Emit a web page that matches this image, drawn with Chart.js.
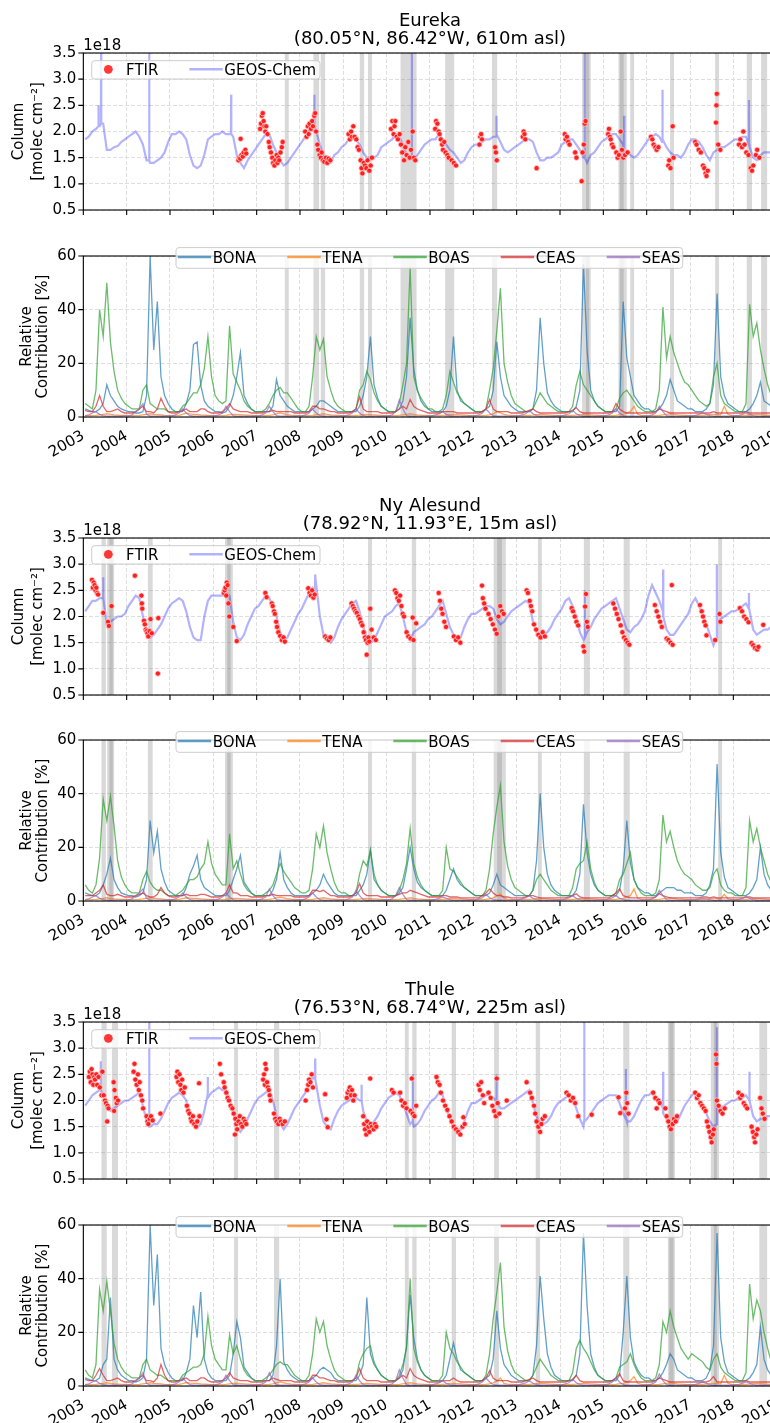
<!DOCTYPE html>
<html>
<head>
<meta charset="utf-8">
<script src="https://cdn.jsdelivr.net/npm/chart.js@4"></script>
<style>
  html, body { margin: 0; padding: 0; background: #fff; }
  body { width: 770px; height: 1423px; overflow: hidden; position: relative; }
  canvas { position: absolute; left: 0; }
</style>
</head>
<body>
<script>
// ========== Axes
const xTicks = [2003, 2004, 2005, 2006, 2007, 2008, 2009, 2010, 2011, 2012, 2013, 2014, 2015, 2016, 2017, 2018, 2019];
const columnTicks = [0.5, 1.0, 1.5, 2.0, 2.5, 3.0, 3.5];
const contribTicks = [0, 20, 40, 60];
const regionNames = ['BONA', 'TENA', 'BOAS', 'CEAS', 'SEAS'];

// ========== Eureka
// GEOS-Chem column, monthly, Jan 2003 .. Dec 2018 (1e18 molec cm-2)
const eurekaGC = [
  1.85,1.9,2.0,2.05,2.1,2.15,1.65,1.65,1.7,1.72,1.8,1.85,
  1.9,1.95,2.0,1.9,1.75,1.45,1.4,1.4,1.45,1.5,1.6,1.8,
  1.95,1.95,2.0,1.95,1.85,1.55,1.35,1.3,1.35,1.55,1.85,1.9,
  1.95,1.95,2.0,1.95,1.95,1.9,1.55,1.4,1.3,1.45,1.55,1.65,
  1.75,1.85,1.95,1.95,1.75,1.6,1.45,1.35,1.4,1.5,1.6,1.7,
  1.8,1.9,2.0,2.15,2.0,1.75,1.55,1.4,1.4,1.55,1.6,1.7,
  1.75,1.85,1.9,1.85,1.75,1.6,1.5,1.5,1.5,1.55,1.7,1.75,
  1.8,1.85,1.95,1.9,1.75,1.55,1.5,1.45,1.55,1.65,1.75,1.8,
  1.85,1.85,1.95,1.85,1.75,1.65,1.6,1.5,1.4,1.45,1.6,1.7,
  1.75,1.75,1.8,1.85,1.85,1.9,1.95,1.8,1.65,1.6,1.65,1.7,
  1.75,1.8,1.85,1.85,1.8,1.6,1.45,1.45,1.5,1.5,1.55,1.6,
  1.75,1.8,1.85,1.85,1.75,1.65,1.5,1.4,1.55,1.6,1.7,1.8,
  1.85,1.9,1.95,1.95,1.85,1.75,1.6,1.55,1.5,1.55,1.65,1.75,
  1.85,1.9,1.95,1.9,1.85,1.7,1.6,1.55,1.55,1.5,1.6,1.75,
  1.85,1.85,1.8,1.7,1.55,1.45,1.6,1.65,1.7,1.7,1.75,1.8,
  1.85,1.85,1.9,1.9,1.7,1.5,1.45,1.55,1.6,1.6,1.6,1.65
];
// short GEOS-Chem events: [time, value before/after, peak]
const eurekaGCSpikes = [
  [2003.35,2.1,2.5],[2003.41,2.15,3.6],[2004.52,1.45,3.6],[2006.41,1.95,2.7],[2008.33,2.1,2.7],
  [2010.58,1.5,3.6],[2012.53,1.9,2.3],[2014.57,1.5,3.6],[2015.48,1.6,2.3],[2016.36,1.8,2.8],[2018.36,1.75,2.6]
];
const eurekaFTIR = [
  [2006.58,1.45],[2006.6,1.5],[2006.62,1.48],[2006.63,1.86],[2006.65,1.55],[2006.68,1.52],[2006.7,1.6],[2006.74,1.65],[2006.76,1.58],
  [2007.08,2.05],[2007.1,2.15],[2007.12,2.3],[2007.14,2.35],[2007.16,2.2],[2007.18,2.1],[2007.2,2.0],[2007.22,2.1],[2007.25,1.95],
  [2007.28,1.8],[2007.3,1.7],[2007.33,1.6],[2007.36,1.5],[2007.38,1.4],[2007.41,1.35],[2007.43,1.45],[2007.46,1.55],[2007.48,1.4],
  [2007.5,1.5],[2007.52,1.45],[2007.55,1.6],[2007.58,1.7],[2007.6,1.8],
  [2008.12,2.0],[2008.15,1.9],[2008.18,2.1],[2008.2,1.95],[2008.22,2.15],[2008.25,2.05],[2008.28,2.2],[2008.3,2.1],[2008.33,2.3],
  [2008.35,2.35],[2008.37,2.0],[2008.4,1.75],[2008.42,1.65],[2008.45,1.55],[2008.48,1.5],[2008.5,1.6],[2008.53,1.45],[2008.56,1.42],
  [2008.6,1.5],[2008.63,1.4],[2008.66,1.48],[2008.7,1.45],
  [2009.12,1.95],[2009.15,1.85],[2009.18,2.0],[2009.2,1.9],[2009.23,2.1],[2009.26,1.9],[2009.3,1.85],[2009.33,1.7],[2009.36,1.65],
  [2009.4,1.45],[2009.42,1.3],[2009.44,1.2],[2009.47,1.4],[2009.5,1.35],[2009.53,1.3],[2009.56,1.45],[2009.6,1.25],[2009.63,1.35],[2009.66,1.5],
  [2010.1,2.05],[2010.13,2.2],[2010.16,1.95],[2010.18,2.1],[2010.2,2.2],[2010.23,1.9],[2010.26,1.85],[2010.3,1.95],[2010.33,1.75],
  [2010.36,1.6],[2010.4,1.45],[2010.43,1.7],[2010.46,1.55],[2010.5,1.8],[2010.53,1.5],[2010.56,1.65],[2010.6,2.0],[2010.63,1.5],[2010.66,1.45],
  [2011.12,2.05],[2011.14,2.2],[2011.17,2.15],[2011.2,2.0],[2011.22,1.95],[2011.25,1.85],[2011.28,1.75],[2011.3,1.65],[2011.33,1.8],
  [2011.36,1.6],[2011.4,1.55],[2011.43,1.5],[2011.5,1.45],[2011.55,1.4],[2011.6,1.35],
  [2012.14,1.75],[2012.16,1.9],[2012.18,1.95],[2012.2,1.85],[2012.5,1.7],[2012.52,1.6],[2012.54,1.45],
  [2013.14,1.9],[2013.16,2.0],[2013.18,1.95],[2013.2,1.85],[2013.46,1.3],
  [2014.11,1.95],[2014.13,1.85],[2014.16,1.9],[2014.19,1.8],[2014.22,1.75],[2014.35,1.6],[2014.38,1.5],[2014.5,1.05],[2014.52,1.6],
  [2014.55,1.75],[2014.57,2.15],[2014.59,2.2],
  [2015.11,1.95],[2015.13,2.05],[2015.15,1.9],[2015.17,1.85],[2015.2,1.75],[2015.23,1.7],[2015.3,1.6],[2015.33,1.5],[2015.36,1.55],
  [2015.4,2.0],[2015.43,1.65],[2015.46,1.5],[2015.5,1.55],[2015.56,1.6],
  [2016.1,1.9],[2016.13,1.85],[2016.16,1.75],[2016.2,1.7],[2016.23,1.65],[2016.27,1.7],[2016.5,1.35],[2016.52,1.45],[2016.55,1.3],
  [2016.6,2.1],[2016.62,1.5],
  [2017.12,1.8],[2017.15,1.75],[2017.2,1.65],[2017.25,1.6],[2017.3,1.35],[2017.33,1.3],[2017.36,1.2],[2017.38,1.15],[2017.41,1.25],
  [2017.6,2.17],[2017.61,2.5],[2017.62,2.72],[2017.65,1.75],[2017.7,1.65],
  [2018.13,1.75],[2018.16,1.85],[2018.2,1.7],[2018.23,2.0],[2018.26,1.75],[2018.3,1.6],[2018.35,1.55],[2018.4,1.3],[2018.43,1.25],
  [2018.46,1.35],[2018.52,1.55],[2018.55,1.65],[2018.6,1.5]
];
// relative contribution by source region, monthly (%)
const eurekaBONA = [
  3,2.5,2,2,3,5,12,8,6,4,3,2.5,
  2,2,1.5,1.5,2,8,60,25,43,15,8,5,
  3,2,2,2,5,10,27,28,12,6,4,3,
  2,2,1.5,2,4,8,15,24,8,5,3,2,
  2,2,2,2,4,14,8,6,4,3,2,2,
  2,2,2,3,4,6,6,5,4,3,2,2,
  2,2,2,2,4,8,15,30,12,7,4,3,
  2,2,2,3,6,15,37,18,10,6,4,3,
  2,2,2,2,4,10,30,10,6,5,4,3,
  2,2,2,3,4,10,28,15,8,6,4,3,
  2,2,2,2,3,10,37,20,9,6,4,3,
  2,2,2,2,4,10,57,25,10,6,4,3,
  2,2,2,2,4,43,22,15,8,6,4,3,
  3,2,2,3,5,8,14,10,6,5,4,3,
  3,2,2,2,3,5,12,46,15,8,5,4,
  3,2,2,2,3,5,8,13,6,5,4,3
];
const eurekaTENA = [
  .6,.5,.5,.6,.8,1,1.2,1,.8,.7,.6,.6,
  .5,.5,.5,.6,.8,1,1.2,1,.9,.8,.6,.5,
  .5,.5,.6,1,1.5,1.2,1,1,.8,.7,.6,.5,
  .5,.5,.5,.6,.8,1,1,.9,.8,.7,.6,.5,
  .5,.5,.5,.6,.8,1.2,1.5,1.2,.9,.7,.6,.5,
  .5,.5,.5,.6,.8,1,1.2,1,.8,.7,.6,.5,
  .5,.5,.5,.6,.7,.9,1,.9,.8,.7,.6,.5,
  .5,.5,.5,.6,.8,1,1.2,1,.8,.7,.6,.5,
  .5,.5,.5,.6,.7,.9,1,.9,.8,.7,.6,.5,
  .5,.5,.5,.6,.8,1.2,2,1.5,1,.7,.6,.5,
  .5,.5,.5,.6,.7,.9,1,.9,.8,.7,.6,.5,
  .5,.5,.5,.6,.7,.9,1,.9,.8,.7,.6,.5,
  .5,.5,.5,.6,.8,1,1.5,2,4,1,.6,.5,
  .5,.5,.5,.6,.8,1,1.2,1,.8,.7,.6,.5,
  .5,.5,.5,.6,.7,.9,1,1,.8,4,1,.6,
  .5,.5,.5,.6,.7,.9,1,.9,.8,.7,.6,.5
];
const eurekaBOAS = [
  5,4,3,10,40,30,50,28,17,10,7,5,
  4,3,3,3,10,12,5,4,3,3,3,2,
  2,2,2,4,5,7,9,9,12,18,30,15,
  8,6,5,6,34,16,13,10,6,4,3,2,
  2,2,3,5,8,10,11,9,9,7,5,3,
  2,2,4,15,30,25,29,15,10,6,4,3,
  2,2,2,3,10,12,17,14,9,6,4,3,
  2,2,2,5,12,20,56,15,10,7,5,3,
  3,2,2,3,8,17,13,9,7,5,4,3,
  2,2,2,3,10,18,32,48,20,13,8,5,
  4,3,2,2,3,6,9,7,5,4,3,2,
  2,2,2,4,12,17,12,10,8,6,4,3,
  2,2,2,3,7,9,10,8,6,4,3,2,
  2,2,3,10,41,22,30,24,20,16,13,12,
  10,8,6,5,4,5,15,20,8,5,4,3,
  2,2,2,5,42,30,35,25,18,12,8,5
];
const eurekaCEAS = [
  2.5,2,2,4,8,4,2,2,2.5,3,2,1.5,
  1.5,1.5,2,3,4,2,2,1.5,3,7,4,2,
  1.5,1.5,2,2.5,3,2,2,2,3,3,2,1.5,
  1.5,1.5,2,3,5,3,2.5,2,2,2,1.5,1.5,
  1.5,1.5,2,2,2.5,2,2,2,2,2,1.5,1.5,
  1.5,1.5,2,4,4,3,3,2.5,2,2,1.5,1.5,
  1.5,1.5,2,3,7.5,3,2,2,2,2,1.5,1.5,
  1.5,1.5,2,3,4,3,6.5,4,3,2.5,2,1.5,
  1.5,1.5,1.5,2,2,2,2,1.5,1.5,1.5,1.5,1.5,
  1.5,1.5,2,3,6.5,3,2,2,2,2,1.5,1.5,
  1.5,1.5,2,2.5,3,2,1.5,1.5,1.5,1.5,1.5,1.5,
  1.5,1.5,2,2.5,3.5,2,1.5,1.5,1.5,1.5,1.5,1.5,
  1.5,1.5,2,5,3,2,1.5,1.5,1.5,1.5,1.5,1.5,
  1.5,1.5,2,3,2.5,2,1.5,1.5,1.5,1.5,1.5,1.5,
  1.5,1.5,1.5,1.5,1.5,1.5,2,1.5,1.5,1.5,1.5,1.5,
  1.5,1.5,1.5,2,1.5,1.5,1.5,1.5,1.5,1.5,1.5,1.5
];
const eurekaSEAS = [
  .4,.8,1.5,2,1,.5,.3,.3,.3,.3,.3,.4,
  .4,.8,2,3,5,1,.3,.3,.3,.3,.3,.4,
  .4,.8,1.5,3,1.5,.5,.3,.3,.3,.3,.3,.4,
  .4,.8,1.5,4,2,.5,.3,.3,.3,.3,.3,.4,
  .4,.8,1.5,4,2,.5,.3,.3,.3,.3,.3,.4,
  .4,.8,1.5,3,1.5,.5,.3,.3,.3,.3,.3,.4,
  .4,.8,1.5,3,1.5,.5,.3,.3,.3,.3,.3,.4,
  .4,.8,2,6.4,3,.5,.3,.3,.3,.3,.3,.4,
  .4,.8,1.2,2,1,.5,.3,.3,.3,.3,.3,.4,
  .4,.8,1.5,3,1.5,.5,.3,.3,.3,.3,.3,.4,
  .4,.8,1.2,2.5,1.2,.5,.3,.3,.3,.3,.3,.4,
  .4,.8,1.2,2.5,1.2,.5,.3,.3,.3,.3,.3,.4,
  .4,.8,1.5,3,1.5,.5,.3,.3,.3,.3,.3,.4,
  .4,.8,1.5,4,2,.5,.3,.3,.3,.3,.3,.4,
  .4,.6,1,1.5,1,.5,.3,.3,.3,.3,.3,.4,
  .4,.6,1,1.5,1,.5,.3,.3,.3,.3,.3,.4
];
// shaded periods [start, end]
const eurekaBands = [
  [2007.65,2007.74],[2008.31,2008.44],[2008.48,2008.58],[2009.38,2009.48],[2009.57,2009.66],[2010.32,2010.69],
  [2011.35,2011.56],[2012.43,2012.55],[2014.51,2014.67],[2014.6,2014.71],[2015.35,2015.47],[2015.38,2015.54],
  [2015.62,2015.71],[2016.54,2016.63],[2017.58,2017.67],[2018.31,2018.43],[2018.64,2018.78]
];

// ========== Ny Alesund
const nyGC = [
  2.1,2.2,2.3,2.3,2.35,2.4,1.85,1.9,1.95,2.0,2.0,2.05,
  2.2,2.3,2.4,2.35,2.0,1.7,1.6,1.65,1.75,1.85,2.0,2.15,
  2.25,2.3,2.35,2.3,2.1,1.8,1.6,1.55,1.55,2.0,2.3,2.4,
  2.4,2.4,2.4,2.45,2.4,1.9,1.6,1.55,1.65,1.85,2.0,2.15,
  2.2,2.3,2.4,2.35,2.2,2.0,1.7,1.55,1.6,1.75,1.9,2.05,
  2.15,2.3,2.45,2.55,2.6,2.0,1.65,1.55,1.5,1.6,1.8,1.95,
  2.05,2.15,2.25,2.3,2.1,1.8,1.6,1.5,1.55,1.7,1.85,2.0,
  2.05,2.1,2.2,2.25,2.0,1.7,1.55,1.7,1.75,1.8,1.85,1.95,
  2.0,2.1,2.2,2.3,2.05,1.8,1.65,1.55,1.6,1.8,1.95,2.05,
  2.05,2.1,2.15,2.2,2.2,2.15,1.95,1.85,1.9,2.0,2.1,2.15,
  2.2,2.25,2.3,2.25,1.9,1.7,1.65,1.65,1.7,1.8,1.95,2.05,
  2.15,2.3,2.35,2.2,2.0,1.7,1.55,1.7,1.8,1.95,2.05,2.15,
  2.2,2.25,2.3,2.35,2.15,1.95,1.75,1.7,1.8,1.85,1.95,2.1,
  2.4,2.6,2.45,2.3,2.1,1.75,1.65,1.65,1.75,1.85,1.95,2.05,
  2.25,2.35,2.2,2.05,1.85,1.65,1.45,1.9,1.95,2.0,2.05,2.1,
  2.1,2.15,2.2,2.25,2.15,1.75,1.65,1.7,1.75,1.75,1.8,1.8
];
const nyGCSpikes = [
  [2003.46,2.35,2.75],[2008.35,2.5,2.8],[2014.57,1.6,2.5],[2016.38,2.0,2.9],[2017.62,1.6,3.0],[2018.36,2.15,2.45]
];
const nyFTIR = [
  [2003.2,2.7],[2003.22,2.55],[2003.24,2.65],[2003.26,2.6],[2003.28,2.5],[2003.3,2.55],[2003.32,2.45],[2003.34,2.42],
  [2003.46,2.07],[2003.57,1.9],[2003.59,1.82],[2003.65,2.2],
  [2004.19,2.78],[2004.34,2.4],[2004.35,2.25],[2004.36,2.15],[2004.4,1.92],[2004.42,1.85],[2004.44,1.75],[2004.46,1.72],
  [2004.48,1.68],[2004.5,1.62],[2004.53,1.72],[2004.55,1.95],[2004.58,1.68],[2004.72,0.91],[2004.73,1.97],
  [2006.24,2.45],[2006.26,2.5],[2006.28,2.55],[2006.3,2.4],[2006.31,2.65],[2006.33,2.6],[2006.35,2.25],[2006.37,2.0],
  [2006.46,1.8],[2006.54,1.53],
  [2007.2,2.45],[2007.23,2.37],[2007.35,2.25],[2007.37,2.2],[2007.4,2.1],[2007.42,2.05],[2007.45,1.9],[2007.47,1.8],
  [2007.5,1.7],[2007.54,1.63],[2007.58,1.55],[2007.62,1.6],[2007.65,1.52],
  [2008.19,2.54],[2008.22,2.45],[2008.25,2.4],[2008.28,2.5],[2008.31,2.36],[2008.34,2.42],[2008.58,1.62],[2008.62,1.58],
  [2008.66,1.55],[2008.7,1.6],
  [2009.19,2.25],[2009.22,2.2],[2009.25,2.15],[2009.28,2.1],[2009.31,2.07],[2009.35,2.0],[2009.38,1.95],[2009.41,1.88],
  [2009.44,1.83],[2009.47,1.7],[2009.5,1.6],[2009.52,1.55],[2009.54,1.27],[2009.56,1.5],[2009.58,1.6],[2009.6,1.52],
  [2009.62,2.15],[2009.65,1.75],[2009.7,1.6],[2009.75,1.55],
  [2010.19,2.5],[2010.22,2.45],[2010.25,2.35],[2010.28,2.3],[2010.31,2.4],[2010.34,2.2],[2010.37,2.05],[2010.4,2.0],
  [2010.46,1.7],[2010.5,1.62],[2010.55,1.58],[2010.6,1.98],[2010.62,1.55],[2010.68,1.87],
  [2011.2,2.45],[2011.23,2.3],[2011.26,2.15],[2011.29,2.05],[2011.33,1.9],[2011.37,1.8],[2011.55,1.62],[2011.6,1.55],
  [2011.65,1.6],[2011.7,1.5],
  [2012.2,2.59],[2012.22,2.35],[2012.25,2.25],[2012.28,2.15],[2012.35,2.05],[2012.4,1.95],[2012.45,1.85],[2012.5,1.75],
  [2012.54,1.67],[2012.58,2.0],[2012.62,2.2],[2012.66,2.1],[2012.7,2.05],
  [2013.23,2.5],[2013.26,2.45],[2013.3,2.3],[2013.33,2.2],[2013.36,2.1],[2013.4,1.85],[2013.45,1.75],[2013.5,1.65],
  [2013.55,1.6],[2013.6,1.7],[2013.65,1.62],
  [2014.27,2.16],[2014.3,2.1],[2014.34,2.0],[2014.38,1.9],[2014.42,1.83],[2014.54,1.43],[2014.56,1.33],[2014.58,2.19],
  [2014.6,2.43],[2014.62,1.9],[2014.64,1.8],
  [2015.23,2.25],[2015.27,2.15],[2015.31,2.05],[2015.35,1.95],[2015.4,1.83],[2015.44,1.7],[2015.48,1.6],[2015.52,1.55],
  [2015.56,1.5],[2015.6,1.46],
  [2016.19,2.22],[2016.23,2.1],[2016.27,2.0],[2016.31,1.9],[2016.35,1.8],[2016.46,1.58],[2016.5,1.55],[2016.55,1.5],
  [2016.58,2.6],[2016.6,1.46],
  [2017.23,2.22],[2017.27,2.1],[2017.3,2.0],[2017.33,1.9],[2017.36,1.83],[2017.38,1.64],[2017.58,1.55],[2017.68,2.05],[2017.7,1.9],
  [2018.15,2.16],[2018.2,2.1],[2018.25,2.0],[2018.3,1.95],[2018.35,1.89],[2018.42,1.49],[2018.46,1.45],[2018.5,1.4],
  [2018.55,1.37],[2018.58,1.42],[2018.69,1.84]
];
const nyBONA = [
  3,2.5,2,2,3,6,10,16,8,5,3,2.5,
  2,2,1.5,2,3,8,30,18,26,12,7,4,
  3,2,2,2,5,10,13,17,8,5,4,3,
  2,2,2,2,4,8,12,17,7,5,3,2,
  2,2,2,2,4,8,18,8,5,3,2,2,
  2,2,2,3,4,6,10,7,5,3,2,2,
  2,2,2,2,4,6,10,19,8,6,4,3,
  2,2,2,3,5,12,20,12,7,5,4,3,
  2,2,2,2,4,8,12,8,6,5,4,3,
  2,2,2,2,3,6,10,6,5,4,3,2,
  2,2,2,2,4,15,40,20,10,6,4,3,
  2,2,2,2,4,10,36,18,10,6,4,3,
  2,2,2,2,4,12,30,14,8,5,4,3,
  3,2,2,3,4,5,5,5,4,4,3,3,
  3,2,2,2,3,6,12,51,18,9,5,4,
  3,2,2,2,3,5,8,20,10,6,4,3
];
const nyTENA = [
  .6,.5,.5,.6,.8,1,1.2,1,.8,.7,.6,.6,
  .5,.5,.5,.6,.8,1,1.2,1,.9,.8,.6,.5,
  .5,.5,.6,.9,1.2,1.1,1,1,.8,.7,.6,.5,
  .5,.5,.5,.6,.8,1,1,.9,.8,.7,.6,.5,
  .5,.5,.5,.6,.8,1.2,1.4,1.2,.9,.7,.6,.5,
  .5,.5,.5,.6,.8,1,1.2,1,.8,.7,.6,.5,
  .5,.5,.5,.6,.7,.9,1,.9,.8,.7,.6,.5,
  .5,.5,.5,.6,.8,1,1.2,1,.8,.7,.6,.5,
  .5,.5,.5,.6,.7,.9,1,.9,.8,.7,.6,.5,
  .5,.5,.5,.6,.8,1.2,1.8,2.7,1,.7,.6,.5,
  .5,.5,.5,.6,.7,.9,1,.9,.8,.7,.6,.5,
  .5,.5,.5,.6,.7,.9,1,.9,.8,.7,.6,.5,
  .5,.5,.5,.6,.8,1,1.5,2,4.5,1,.6,.5,
  .5,.5,.5,.6,.8,1,1.2,1,.8,.7,.6,.5,
  .5,.5,.5,.6,.7,.9,1,1,.8,2.5,.8,.6,
  .5,.5,.5,.6,.7,.9,1,.9,.8,.7,.6,.5
];
const nyBOAS = [
  6,4,3,6,16,38,30,39,28,15,9,6,
  4,3,3,3,8,11,7,5,4,4,3,2,
  2,2,3,4,6,8,8,9,12,14,22,14,
  10,8,6,6,25,12,15,10,6,4,3,2,
  2,2,3,4,6,10,14,11,9,7,5,4,
  3,3,4,12,25,20,28,18,12,7,4,3,
  3,2,2,3,10,15,13,19,10,6,4,3,
  2,2,2,4,8,14,27,14,9,6,4,3,
  2,2,2,4,20,12,11,9,7,5,4,3,
  2,2,2,4,12,25,35,43,22,13,8,5,
  4,3,2,2,4,8,10,8,6,4,3,2,
  2,2,2,5,12,14,15,22,12,7,4,3,
  2,2,2,3,8,10,14,18,8,5,3,2,
  2,2,3,8,32,22,26,20,15,12,10,9,
  8,6,5,4,4,5,10,12,6,4,3,3,
  2,2,2,5,30,22,27,20,15,10,7,5
];
const nyCEAS = [
  2,2,2,3,4,6,2.5,2,2,2.5,2,1.5,
  1.5,1.5,2,2.5,3,2,1.5,1.5,2.5,5,3,2,
  1.5,1.5,2,2,2.5,2,2,2,2.5,2.5,2,1.5,
  1.5,1.5,2,3,6,3,3,2,2,2,1.5,1.5,
  1.5,1.5,2,2,2.5,2,2,2,2,2,1.5,1.5,
  1.5,1.5,2,4,4,3.5,4,3,2,2,1.5,1.5,
  1.5,1.5,2,3,6.5,3,2,2,2,2,1.5,1.5,
  1.5,1.5,2,2.5,3,3,4,3.5,3,2.5,2,1.5,
  1.5,1.5,1.5,2,2,1.5,1.5,1.5,1.2,1.2,1.2,1.2,
  1.2,1.2,2,3,4.5,3,2,2,1.5,1.5,1.2,1.2,
  1.2,1.2,1.5,2,2,1.5,1.2,1.2,1.2,1.2,1.2,1.2,
  1.2,1.2,1.5,2,2.7,1.5,1.2,1.2,1.2,1.2,1.2,1.2,
  1.2,1.2,2,3,4.5,2,1.5,1.2,1.2,1.2,1.2,1.2,
  1.2,1.2,1.5,2.7,2,1.5,1.2,1.2,1.2,1.2,1.2,1.2,
  1.2,1.2,1.2,1.5,1.5,1.2,1.5,1.2,1.2,1.2,1.2,1.2,
  1.2,1.2,1.2,1.5,1.5,1.2,1.2,1.2,1.2,1.2,1.2,1.2
];
const nySEAS = [
  .4,.8,1.5,2,1,.5,.3,.3,.3,.3,.3,.4,
  .4,.8,2,3,4.5,1,.3,.3,.3,.3,.3,.4,
  .4,.8,1.5,3,1.5,.5,.3,.3,.3,.3,.3,.4,
  .4,.8,1.5,3,1.5,.5,.3,.3,.3,.3,.3,.4,
  .4,.8,1.5,4.5,2,.5,.3,.3,.3,.3,.3,.4,
  .4,.8,1.5,3,1.5,.5,.3,.3,.3,.3,.3,.4,
  .4,.8,1.5,4,2,.5,.3,.3,.3,.3,.3,.4,
  .4,.8,2,5,2.5,.5,.3,.3,.3,.3,.3,.4,
  .4,.6,1,1.5,1,.5,.3,.3,.3,.3,.3,.4,
  .4,.8,1.2,2.5,1.2,.5,.3,.3,.3,.3,.3,.4,
  .4,.8,1.2,2,1,.5,.3,.3,.3,.3,.3,.4,
  .4,.8,1.2,2,1,.5,.3,.3,.3,.3,.3,.4,
  .4,.8,1.2,2,1,.5,.3,.3,.3,.3,.3,.4,
  .4,.8,1.5,4,2,.5,.3,.3,.3,.3,.3,.4,
  .4,.5,.8,1,.8,.5,.3,.3,.3,.3,.3,.4,
  .4,.6,1,1.5,1,.5,.3,.3,.3,.3,.3,.4
];
const nyBands = [
  [2003.42,2003.52],[2003.55,2003.68],[2003.6,2003.71],[2004.49,2004.6],[2006.27,2006.4],[2006.32,2006.45],
  [2009.57,2009.66],[2010.58,2010.68],[2012.47,2012.66],[2012.55,2012.75],[2013.49,2013.58],[2014.55,2014.69],
  [2015.47,2015.61],[2017.65,2017.74]
];

// ========== Thule
const thuleGC = [
  1.9,2.0,2.1,2.15,2.2,2.1,1.85,1.8,1.85,1.9,1.95,2.0,
  2.0,2.05,2.1,2.15,1.9,1.6,1.5,1.55,1.55,1.65,1.8,1.95,
  2.05,2.1,2.15,2.1,2.0,1.75,1.55,1.5,1.55,1.8,2.05,2.15,
  2.2,2.25,2.2,2.2,2.05,1.75,1.5,1.4,1.5,1.65,1.8,1.95,
  2.05,2.1,2.15,2.2,2.0,1.7,1.55,1.45,1.55,1.7,1.85,1.95,
  2.05,2.15,2.3,2.45,2.3,1.9,1.6,1.5,1.45,1.65,1.8,1.9,
  1.95,2.0,2.05,2.05,2.0,1.8,1.6,1.55,1.6,1.7,1.85,1.95,
  2.05,2.1,2.15,2.1,1.95,1.75,1.55,1.5,1.55,1.65,1.8,1.9,
  2.0,2.05,2.15,2.1,1.85,1.65,1.5,1.45,1.45,1.6,1.8,1.95,
  1.95,2.0,2.05,2.1,2.1,2.05,2.0,1.85,1.85,1.9,1.95,2.0,
  2.05,2.1,2.15,2.2,1.95,1.7,1.55,1.55,1.6,1.7,1.85,1.95,
  2.0,2.05,2.1,2.05,1.85,1.65,1.5,1.65,1.75,1.85,1.95,2.0,
  2.05,2.1,2.1,2.1,1.95,1.75,1.6,1.6,1.7,1.85,2.0,2.1,
  2.1,2.15,2.05,2.0,1.85,1.65,1.55,1.55,1.6,1.75,1.9,2.0,
  2.1,2.15,2.0,1.9,1.75,1.6,1.5,1.75,1.85,1.9,1.95,2.0,
  2.0,2.05,2.05,2.1,2.0,1.7,1.6,1.65,1.65,1.7,1.7,1.7
];
const thuleGCSpikes = [
  [2003.4,2.2,2.75],[2004.52,1.5,3.6],[2005.87,2.1,2.45],[2008.35,2.4,2.8],[2009.42,2.0,2.3],[2010.6,1.6,2.5],
  [2012.53,2.0,2.5],[2014.56,1.6,3.6],[2015.52,1.65,2.6],[2016.38,1.75,2.55],[2017.62,1.55,3.4],[2018.37,2.0,2.55]
];
const thuleFTIR = [
  [2003.13,2.45],[2003.15,2.55],[2003.17,2.35],[2003.19,2.6],[2003.21,2.5],[2003.23,2.3],[2003.25,2.45],[2003.27,2.4],
  [2003.3,2.5],[2003.32,2.3],[2003.35,2.45],[2003.38,2.25],[2003.42,2.1],[2003.44,2.55],[2003.47,2.1],[2003.5,2.0],
  [2003.52,1.95],[2003.55,1.6],[2003.56,1.9],[2003.58,1.85],[2003.7,2.35],[2003.71,1.8],[2003.72,2.2],[2003.75,2.05],
  [2003.77,1.95],[2003.8,2.0],
  [2004.16,2.55],[2004.18,2.7],[2004.2,2.4],[2004.23,2.3],[2004.26,2.5],[2004.28,2.2],[2004.3,2.35],[2004.33,2.1],
  [2004.36,2.0],[2004.38,1.85],[2004.46,1.7],[2004.48,1.6],[2004.5,1.55],[2004.53,1.65],[2004.56,1.7],[2004.6,1.62],[2004.78,1.75],
  [2005.15,2.45],[2005.17,2.55],[2005.19,2.35],[2005.22,2.5],[2005.24,2.3],[2005.26,2.2],[2005.28,2.4],[2005.31,2.15],
  [2005.34,2.25],[2005.39,1.9],[2005.42,1.8],[2005.45,1.75],[2005.48,1.65],[2005.5,1.6],[2005.53,1.7],[2005.56,1.55],
  [2005.6,1.5],[2005.63,1.6],[2005.67,2.33],[2005.68,1.7],
  [2006.15,2.7],[2006.18,2.5],[2006.24,2.35],[2006.26,2.25],[2006.3,2.15],[2006.33,2.05],[2006.36,2.0],[2006.4,1.9],
  [2006.44,1.85],[2006.47,1.75],[2006.5,1.35],[2006.51,1.65],[2006.53,1.55],[2006.55,1.45],[2006.58,1.6],[2006.61,1.7],
  [2006.64,1.55],[2006.67,1.5],[2006.7,1.65],[2006.73,1.6],[2006.76,1.55],
  [2007.15,2.4],[2007.17,2.5],[2007.19,2.3],[2007.2,2.7],[2007.22,2.6],[2007.24,2.35],[2007.26,2.25],[2007.28,2.2],
  [2007.3,2.1],[2007.32,2.0],[2007.4,1.75],[2007.43,1.65],[2007.46,1.6],[2007.5,1.55],[2007.53,1.65],[2007.56,1.6],
  [2007.6,1.55],[2007.65,1.6],
  [2008.13,2.0],[2008.16,2.2],[2008.19,2.3],[2008.21,2.4],[2008.24,2.35],[2008.27,2.5],[2008.3,2.25],[2008.58,2.12],
  [2008.61,1.64],[2008.64,1.49],
  [2009.08,2.05],[2009.1,2.15],[2009.13,2.2],[2009.15,2.25],[2009.18,2.1],[2009.2,2.2],[2009.23,2.0],[2009.26,2.1],
  [2009.46,1.7],[2009.48,1.55],[2009.5,1.45],[2009.53,1.35],[2009.55,1.6],[2009.58,1.5],[2009.6,1.4],[2009.62,2.42],
  [2009.63,1.55],[2009.66,1.5],[2009.7,1.45],[2009.73,1.55],[2009.76,1.5],
  [2010.12,2.2],[2010.16,2.15],[2010.31,2.15],[2010.34,2.0],[2010.38,1.9],[2010.42,1.95],[2010.46,1.85],[2010.55,1.8],
  [2010.58,2.42],[2010.6,1.75],[2010.64,1.7],[2010.68,1.9],
  [2011.15,2.45],[2011.18,2.35],[2011.22,2.3],[2011.25,2.15],[2011.3,2.0],[2011.35,1.9],[2011.4,1.82],[2011.45,1.7],
  [2011.5,1.6],[2011.55,1.5],[2011.6,1.45],[2011.65,1.4],[2011.7,1.35],[2011.75,1.5],[2011.77,1.68],[2011.8,1.55],
  [2012.12,2.3],[2012.15,2.2],[2012.18,2.35],[2012.22,2.1],[2012.25,1.95],[2012.35,2.15],[2012.4,2.05],[2012.44,1.9],
  [2012.48,1.8],[2012.52,1.7],[2012.54,2.42],[2012.56,1.95],[2012.6,1.75],[2012.77,2.0],
  [2013.23,2.35],[2013.31,2.15],[2013.35,2.05],[2013.4,1.9],[2013.43,1.75],[2013.46,1.6],[2013.5,1.5],[2013.54,1.4],
  [2013.57,1.55],[2013.6,1.65],[2013.65,1.7],
  [2014.15,2.15],[2014.2,2.1],[2014.25,2.0],[2014.3,2.05],[2014.35,1.95],[2014.42,1.7],[2014.73,1.73],
  [2015.35,2.06],[2015.39,1.76],[2015.5,1.85],[2015.53,2.15],[2015.55,1.95],[2015.58,1.75],
  [2016.15,2.15],[2016.2,2.05],[2016.23,1.85],[2016.27,2.0],[2016.3,1.95],[2016.43,1.85],[2016.46,1.7],[2016.5,1.6],
  [2016.53,1.5],[2016.56,1.45],[2016.6,1.55],[2016.63,1.65],[2016.67,1.6],[2016.7,1.7],
  [2017.12,2.15],[2017.16,2.05],[2017.2,2.1],[2017.24,1.95],[2017.28,1.9],[2017.32,1.85],[2017.36,1.8],[2017.39,1.6],
  [2017.42,1.5],[2017.45,1.4],[2017.48,1.3],[2017.5,1.2],[2017.53,1.35],[2017.55,1.45],[2017.6,2.88],[2017.61,2.7],
  [2017.62,2.0],[2017.66,1.9],[2017.7,1.8],[2017.75,1.75],[2017.8,1.85],
  [2018.12,2.15],[2018.16,2.05],[2018.2,2.1],[2018.24,1.95],[2018.28,1.9],[2018.32,1.85],[2018.42,1.5],[2018.45,1.4],
  [2018.48,1.3],[2018.5,1.2],[2018.53,1.35],[2018.56,1.45],[2018.62,2.05],[2018.65,1.85],[2018.68,1.75],[2018.72,1.65]
];
const thuleBONA = [
  3,2.5,2,2,3,8,10,33,10,6,4,3,
  2,2,1.5,2,3,10,60,30,49,14,8,5,
  3,2,2,2,5,10,30,18,35,10,5,3,
  2,2,2,2,4,12,24,18,7,5,3,2,
  2,2,2,2,4,15,40,9,6,4,3,2,
  2,2,2,3,4,6,7,6,5,3,2,2,
  2,2,2,2,4,8,33,12,8,6,4,3,
  2,2,2,3,6,15,34,18,10,6,4,3,
  2,2,2,2,4,10,16,10,6,5,4,3,
  2,2,2,3,4,10,28,14,8,6,4,3,
  2,2,2,2,4,15,41,25,12,7,4,3,
  2,2,2,2,4,12,57,30,12,7,4,3,
  2,2,2,2,4,20,41,18,9,6,4,3,
  3,2,2,3,5,8,12,10,6,5,4,3,
  3,2,2,2,3,6,15,57,18,9,5,4,
  3,2,2,2,3,5,8,22,10,6,4,3
];
const thuleTENA = [
  .6,.5,.5,.6,.8,1,1.2,1,.8,.7,.6,.6,
  .5,.5,.5,.6,.8,1,1.2,1,.9,.8,.6,.5,
  .5,.5,.6,.9,1.3,1.1,1,1,.8,.7,.6,.5,
  .5,.5,.5,.6,.8,1,1,.9,.8,.7,.6,.5,
  .5,.5,.5,.6,.8,1.2,1.5,1.2,.9,.7,.6,.5,
  .5,.5,.5,.6,.8,1,1.2,1,.8,.7,.6,.5,
  .5,.5,.5,.6,.7,.9,1,.9,.8,.7,.6,.5,
  .5,.5,.5,.6,.8,1,1.2,1,.8,.7,.6,.5,
  .5,.5,.5,.6,.7,.9,1,.9,.8,.7,.6,.5,
  .5,.5,.5,.6,.8,1.2,1.8,3,1,.7,.6,.5,
  .5,.5,.5,.6,.7,.9,1,.9,.8,.7,.6,.5,
  .5,.5,.5,.6,.7,.9,1,.9,.8,.7,.6,.5,
  .5,.5,.5,.6,.8,1,1.5,2,3.5,1,.6,.5,
  .5,.5,.5,.6,.8,1,1.2,1,.8,.7,.6,.5,
  .5,.5,.5,.6,.7,.9,1,1,.8,4,1,.6,
  .5,.5,.5,.6,.7,.9,1,.9,.8,.7,.6,.5
];
const thuleBOAS = [
  6,4,3,8,36,28,39,28,16,10,7,5,
  4,3,3,3,8,10,6,5,4,4,3,2,
  2,2,2,4,5,6,7,7,8,12,26,15,
  10,8,6,6,19,12,15,10,6,4,3,2,
  2,2,3,4,6,8,9,8,8,6,4,3,
  2,2,4,12,25,20,24,15,10,6,4,3,
  2,2,2,3,9,12,14,15,9,6,4,3,
  2,2,2,4,8,14,40,14,9,6,4,3,
  2,2,2,4,20,14,12,9,7,5,4,3,
  2,2,2,4,12,25,35,46,22,13,8,5,
  4,3,2,2,4,7,10,8,6,4,3,2,
  2,2,2,5,14,17,14,12,9,6,4,3,
  2,2,2,3,7,8,9,12,8,5,3,2,
  2,2,3,8,24,20,28,22,18,14,12,10,
  12,11,10,9,7,6,10,12,7,5,4,3,
  2,2,2,5,38,25,32,28,20,14,9,6
];
const thuleCEAS = [
  2.5,2,2,4,6.5,4,2,2,2.5,3,2,1.5,
  1.5,1.5,2,3,4,2,2,1.5,3,8,4,2,
  1.5,1.5,2,2.5,3,2,2,2,3,3,2,1.5,
  1.5,1.5,2,3,5,3,2.5,2,2,2,1.5,1.5,
  1.5,1.5,2,2,3,2.5,2,2,2,2,1.5,1.5,
  1.5,1.5,2,4,4,3,3,2.5,2,2,1.5,1.5,
  1.5,1.5,2,3,6.5,3,2,2,2,2,1.5,1.5,
  1.5,1.5,2,3,4,3,6.5,4,3,2.5,2,1.5,
  1.5,1.5,1.5,2,2,2,3,2,1.5,1.5,1.5,1.5,
  1.5,1.5,2,3,5.7,3,2,2,2,2,1.5,1.5,
  1.5,1.5,2,2.5,3,2,1.5,1.5,1.5,1.5,1.5,1.5,
  1.5,1.5,2,2.5,4,2,1.5,1.5,1.5,1.5,1.5,1.5,
  1.5,1.5,2,3,4.5,2,1.5,1.5,1.5,1.5,1.5,1.5,
  1.5,1.5,2,3,2.5,2,1.5,1.5,1.5,1.5,1.5,1.5,
  1.5,1.5,1.5,1.5,1.5,2,3.5,1.5,1.5,1.5,1.5,1.5,
  1.5,1.5,1.5,2,1.5,1.5,1.5,1.5,1.5,1.5,1.5,1.5
];
const thuleSEAS = [
  .4,.8,1.5,2,1,.5,.3,.3,.3,.3,.3,.4,
  .4,.8,2,3,5,1,.3,.3,.3,.3,.3,.4,
  .4,.8,1.5,3,1.5,.5,.3,.3,.3,.3,.3,.4,
  .4,.8,1.5,4,2,.5,.3,.3,.3,.3,.3,.4,
  .4,.8,1.5,5,2,.5,.3,.3,.3,.3,.3,.4,
  .4,.8,1.5,3,1.5,.5,.3,.3,.3,.3,.3,.4,
  .4,.8,1.5,4,2,.5,.3,.3,.3,.3,.3,.4,
  .4,.8,2,6,3,.5,.3,.3,.3,.3,.3,.4,
  .4,.8,1.2,2,1,.5,.3,.3,.3,.3,.3,.4,
  .4,.8,1.5,3,1.5,.5,.3,.3,.3,.3,.3,.4,
  .4,.8,1.2,2,1,.5,.3,.3,.3,.3,.3,.4,
  .4,.8,1.2,2.5,1.2,.5,.3,.3,.3,.3,.3,.4,
  .4,.8,1.5,3,1.5,.5,.3,.3,.3,.3,.3,.4,
  .4,.8,1.5,4.5,2,.5,.3,.3,.3,.3,.3,.4,
  .4,.6,1,1.5,1,.5,.3,.3,.3,.3,.3,.4,
  .4,.6,1,1.5,1,.5,.3,.3,.3,.3,.3,.4
];
const thuleBands = [
  [2003.42,2003.54],[2003.66,2003.8],[2006.48,2006.57],[2007.4,2007.52],[2010.42,2010.51],[2010.59,2010.69],
  [2011.5,2011.6],[2012.48,2012.59],[2013.44,2013.54],[2015.46,2015.6],[2016.49,2016.62],[2016.52,2016.65],
  [2017.48,2017.62],[2017.55,2017.67],[2018.6,2018.78]
];

// ========== Layout / styles
const CANVAS_W = 800;
const AREA_LEFT = 83.33;
const AREA_RIGHT = 776.67;
const AREA_H = 165;
const FONT = '"DejaVu Sans"';
const gcColor = 'rgba(0,0,255,0.3)';
const ftirColor = '#ff1f1f';
const bandColor = 'rgba(128,128,128,0.3)';
const gridColor = '#dedede';
const regionColors = ['rgba(31,119,180,0.7)', 'rgba(255,127,14,0.7)', 'rgba(44,160,44,0.7)', 'rgba(214,39,40,0.7)', 'rgba(148,103,189,0.7)'];

Chart.defaults.font.family = FONT;
Chart.defaults.color = '#000';

const stations = [
  { name: 'Eureka', coords: '(80.05°N, 86.42°W, 610m asl)', gc: eurekaGC, spikes: eurekaGCSpikes, ftir: eurekaFTIR,
    regions: [eurekaBONA, eurekaTENA, eurekaBOAS, eurekaCEAS, eurekaSEAS], bands: eurekaBands, colTop: 53, relTop: 252 },
  { name: 'Ny Alesund', coords: '(78.92°N, 11.93°E, 15m asl)', gc: nyGC, spikes: nyGCSpikes, ftir: nyFTIR,
    regions: [nyBONA, nyTENA, nyBOAS, nyCEAS, nySEAS], bands: nyBands, colTop: 538, relTop: 736 },
  { name: 'Thule', coords: '(76.53°N, 68.74°W, 225m asl)', gc: thuleGC, spikes: thuleGCSpikes, ftir: thuleFTIR,
    regions: [thuleBONA, thuleTENA, thuleBOAS, thuleCEAS, thuleSEAS], bands: thuleBands, colTop: 1022, relTop: 1221 }
];

function monthly(values) {
  return values.map((v, i) => ({ x: 2003 + (i + 0.5) / 12, y: v }));
}

function columnLine(values, spikes) {
  const pts = monthly(values);
  spikes.forEach(([t, base, peak]) => {
    pts.push({ x: t - 0.004, y: base }, { x: t, y: peak }, { x: t + 0.004, y: base });
  });
  return pts.sort((a, b) => a.x - b.x);
}

function roundBox(ctx, x, y, w, h, r) {
  ctx.beginPath();
  ctx.roundRect(x, y, w, h, r);
  ctx.fillStyle = 'rgba(255,255,255,0.8)';
  ctx.fill();
  ctx.strokeStyle = '#cccccc';
  ctx.lineWidth = 1;
  ctx.stroke();
}

// shaded periods, frame, tick marks, legend and titles
const panelDecor = {
  id: 'panelDecor',
  beforeDatasetsDraw(chart, args, opts) {
    const { ctx, chartArea: a, scales: { x } } = chart;
    ctx.save();
    ctx.beginPath();
    ctx.rect(a.left, a.top, a.right - a.left, a.bottom - a.top);
    ctx.clip();
    ctx.fillStyle = bandColor;
    opts.bands.forEach(([t0, t1]) => {
      const x0 = x.getPixelForValue(t0);
      const x1 = x.getPixelForValue(t1);
      ctx.fillRect(x0, a.top, x1 - x0, a.bottom - a.top);
    });
    ctx.restore();
  },
  afterDraw(chart, args, opts) {
    const { ctx, chartArea: a, scales: { x, y } } = chart;
    ctx.save();
    ctx.strokeStyle = '#000';
    ctx.lineWidth = 1.1;
    ctx.strokeRect(a.left, a.top, a.right - a.left, a.bottom - a.top);
    ctx.beginPath();
    x.ticks.forEach(t => {
      const px = x.getPixelForValue(t.value);
      ctx.moveTo(px, a.bottom); ctx.lineTo(px, a.bottom + 5);
    });
    y.ticks.forEach(t => {
      const py = y.getPixelForValue(t.value);
      ctx.moveTo(a.left - 5, py); ctx.lineTo(a.left, py);
    });
    ctx.stroke();

    ctx.textBaseline = 'alphabetic';
    if (opts.kind === 'column') {
      // station title and offset text
      ctx.fillStyle = '#000';
      ctx.font = `18px ${FONT}`;
      ctx.textAlign = 'center';
      const cx = (a.left + a.right) / 2;
      ctx.fillText(opts.title[0], cx, a.top - 27);
      ctx.fillText(opts.title[1], cx, a.top - 9);
      ctx.font = `15px ${FONT}`;
      ctx.textAlign = 'left';
      ctx.fillText('1e18', a.left, a.top - 3);

      roundBox(ctx, a.left + 8.4, a.top + 7.7, 228.3, 18.3, 3);
      ctx.fillStyle = 'rgba(255,20,20,0.85)';
      ctx.beginPath();
      ctx.arc(a.left + 25, a.top + 16.3, 4.4, 0, Math.PI * 2);
      ctx.fill();
      ctx.strokeStyle = gcColor;
      ctx.lineWidth = 2.5;
      ctx.beginPath();
      ctx.moveTo(a.left + 106, a.top + 16.3); ctx.lineTo(a.left + 139.4, a.top + 16.3);
      ctx.stroke();
      ctx.fillStyle = '#000';
      ctx.font = `15px ${FONT}`;
      ctx.fillText('FTIR', a.left + 42.7, a.top + 21.7);
      ctx.fillText('GEOS-Chem', a.left + 141, a.top + 21.7);
    } else {
      roundBox(ctx, a.left + 92.7, a.top - 8.4, 506.7, 20.7, 3);
      const lineX = [94.4, 204, 310, 417.4, 523.4];
      ctx.font = `15px ${FONT}`;
      ctx.textAlign = 'left';
      regionNames.forEach((name, i) => {
        ctx.strokeStyle = regionColors[i];
        ctx.lineWidth = 2.5;
        ctx.beginPath();
        ctx.moveTo(a.left + lineX[i], a.top + 1); ctx.lineTo(a.left + lineX[i] + 33.4, a.top + 1);
        ctx.stroke();
        ctx.fillStyle = '#000';
        ctx.fillText(name, a.left + lineX[i] + 35, a.top + 7);
      });
    }
    ctx.restore();
  }
};

function addCanvas(top, height) {
  const c = document.createElement('canvas');
  c.width = CANVAS_W;
  c.height = height;
  c.style.top = top + 'px';
  c.style.width = CANVAS_W + 'px';
  c.style.height = height + 'px';
  document.body.appendChild(c);
  return c;
}

function xScale(showLabels, height) {
  return {
    type: 'linear', min: 2003, max: 2019,
    afterBuildTicks: s => { s.ticks = xTicks.map(v => ({ value: v })); },
    afterFit: s => { s.height = height; },
    ticks: {
      display: showLabels, autoSkip: false, minRotation: 30, maxRotation: 30, padding: 10,
      font: { size: 15 }, callback: v => String(v)
    },
    grid: { color: gridColor, lineWidth: 1, drawTicks: false },
    border: { display: false, dash: [4, 2] }
  };
}

function yScale(min, max, ticks, fmt, title, lineHeight, titlePad) {
  return {
    min: min, max: max,
    afterBuildTicks: s => { s.ticks = ticks.map(v => ({ value: v })); },
    afterFit: s => { s.width = AREA_LEFT; },
    ticks: { font: { size: 15 }, padding: 7, callback: fmt },
    grid: { color: gridColor, lineWidth: 1, drawTicks: false },
    border: { display: false, dash: [4, 2] },
    title: { display: true, text: title, font: { size: 15, lineHeight: lineHeight }, padding: { top: titlePad, bottom: 0 } }
  };
}

function renderColumnChart(st) {
  const padTop = 52, padBottom = 8;
  const canvas = addCanvas(st.colTop - padTop, padTop + AREA_H + padBottom);
  return new Chart(canvas, {
    type: 'line',
    data: {
      datasets: [
        {
          label: 'FTIR', data: st.ftir.map(([t, v]) => ({ x: t, y: v })), showLine: false, order: 0,
          pointRadius: 2.6, pointBackgroundColor: ftirColor, pointBorderColor: 'rgba(255,215,215,0.9)', pointBorderWidth: 0.8
        },
        {
          label: 'GEOS-Chem', data: columnLine(st.gc, st.spikes), order: 1,
          borderColor: gcColor, borderWidth: 2.2, pointRadius: 0, tension: 0
        }
      ]
    },
    options: {
      responsive: false, animation: false, devicePixelRatio: 1,
      layout: { autoPadding: false, padding: { top: padTop, right: CANVAS_W - AREA_RIGHT, bottom: 0, left: 0 } },
      plugins: {
        legend: { display: false }, tooltip: { enabled: false },
        panelDecor: { kind: 'column', bands: st.bands, title: [st.name, st.coords] }
      },
      scales: {
        x: xScale(false, padBottom),
        y: yScale(0.5, 3.5, columnTicks, v => v.toFixed(1), ['Column', '[molec cm⁻²]'], '19px', 10)
      }
    },
    plugins: [panelDecor]
  });
}

function renderContribChart(st) {
  const padTop = 12, padBottom = 50;
  const canvas = addCanvas(st.relTop - padTop, padTop + AREA_H + padBottom);
  return new Chart(canvas, {
    type: 'line',
    data: {
      datasets: regionNames.map((name, i) => ({
        label: name, data: monthly(st.regions[i]), order: regionNames.length - i,
        borderColor: regionColors[i], borderWidth: 1.3, pointRadius: 0, tension: 0
      }))
    },
    options: {
      responsive: false, animation: false, devicePixelRatio: 1,
      layout: { autoPadding: false, padding: { top: padTop, right: CANVAS_W - AREA_RIGHT, bottom: 0, left: 0 } },
      plugins: {
        legend: { display: false }, tooltip: { enabled: false },
        panelDecor: { kind: 'contrib', bands: st.bands }
      },
      scales: {
        x: xScale(true, padBottom),
        y: yScale(0, 60, contribTicks, v => String(v), ['Relative', 'Contribution [%]'], '16.5px', 18.5)
      }
    },
    plugins: [panelDecor]
  });
}

stations.forEach(st => {
  renderColumnChart(st);
  renderContribChart(st);
});
</script>
</body>
</html>
